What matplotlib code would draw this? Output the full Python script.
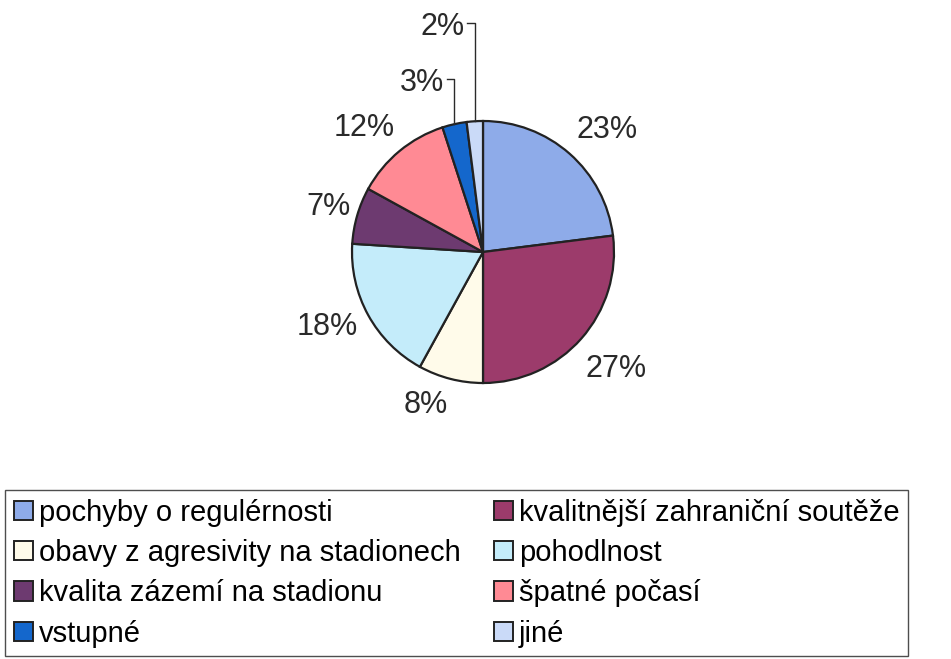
import numpy as np
import matplotlib.pyplot as plt
from matplotlib.patches import Patch

# podíly odpovědí (%)
kategorie = ["pochyby o regulérnosti", "kvalitnější zahraniční soutěže",
             "obavy z agresivity na stadionech", "pohodlnost",
             "kvalita zázemí na stadionu", "špatné počasí", "vstupné", "jiné"]
hodnoty = [23, 27, 8, 18, 7, 12, 3, 2]
barvy = ["#8eabe9", "#9c3b6b", "#fffbea", "#c4ecfa",
         "#6d3a70", "#ff8a94", "#1467cc", "#cadaf8"]

# rozlozeni popisku: vzdalenost (v polomerech) a posun uhlu (stupne)
vzdal = [1.33, 1.35, 1.25, 1.32, 1.23, 1.31, 1.35, 1.75]
posun = [-4, 0, -6, -3, 0, 4, 0, 0]

fig = plt.figure(figsize=(9.51, 6.59), dpi=100)
R = 131
cx, cy = 483, 252
W, H = 951, 659
ax = fig.add_axes([(cx - 2 * R) / W, (H - cy - 2 * R) / H, 4 * R / W, 4 * R / H])

wedges, _ = ax.pie(hodnoty, colors=barvy, startangle=90, counterclock=False,
                   radius=1, wedgeprops=dict(edgecolor="#222222", linewidth=1.6))
ax.set_xlim(-2, 2)
ax.set_ylim(-2, 2)
ax.axis("off")

for i, (w, v) in enumerate(zip(wedges, hodnoty)):
    ang = np.deg2rad((w.theta1 + w.theta2) / 2 + posun[i])
    d = vzdal[i]
    if v <= 3:
        # popisek s vodici carou
        ex, ey = np.cos(ang), np.sin(ang)
        ly = ey * d
        lx = ex - 0.06
        ax.text(lx - 0.02, ly - 0.03, f"{v}%", fontsize=22, ha="right", va="center",
                color="#2a2a2a", family="Liberation Sans")
        ax.plot([lx, ex, ex], [ly, ly, ey], color="#2a2a2a", lw=1.0)
    else:
        ax.text(np.cos(ang) * d, np.sin(ang) * d, f"{v}%", fontsize=22,
                ha="center", va="center", color="#2a2a2a", family="Liberation Sans")

handles = [Patch(facecolor=c, edgecolor="#222222", linewidth=1.4) for c in barvy]
poradi = [0, 2, 4, 6, 1, 3, 5, 7]
leg = fig.legend([handles[i] for i in poradi], [kategorie[i] for i in poradi],
                 ncol=2, loc="upper left", bbox_to_anchor=(5 / W, 1 - 490 / H),
                 frameon=True, fancybox=False, edgecolor="#222222",
                 prop=dict(family="Liberation Sans", size=21),
                 handlelength=0.65, handleheight=0.65, handletextpad=0.2,
                 columnspacing=1.15, labelspacing=0.42, borderpad=0.3,
                 borderaxespad=0)
leg.get_frame().set_linewidth(1.0)

fig.savefig("out.png", dpi=100)
